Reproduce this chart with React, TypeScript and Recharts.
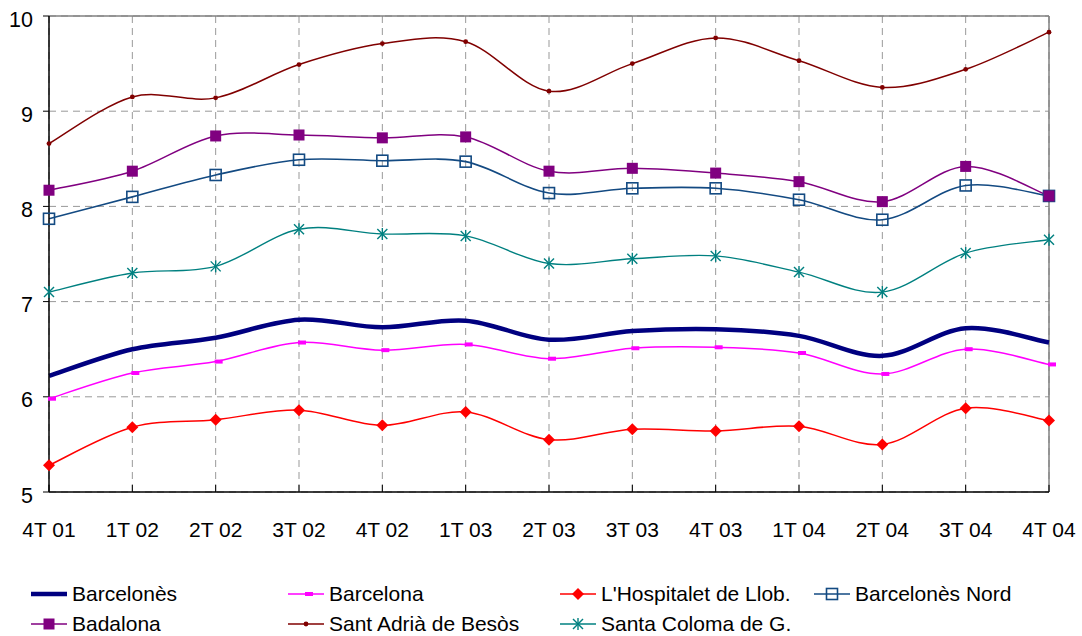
import React from "react";
import {
  LineChart,
  Line,
  XAxis,
  YAxis,
  CartesianGrid,
  Legend,
  ReferenceLine,
} from "recharts";

const quarters = ["4T 01", "1T 02", "2T 02", "3T 02", "4T 02", "1T 03", "2T 03", "3T 03", "4T 03", "1T 04", "2T 04", "3T 04", "4T 04"];
const yTicks = [5, 6, 7, 8, 9, 10];

const barcelones = [6.22, 6.5, 6.62, 6.81, 6.73, 6.8, 6.6, 6.69, 6.71, 6.64, 6.43, 6.72, 6.57];
const barcelona = [5.98, 6.25, 6.37, 6.57, 6.49, 6.55, 6.4, 6.51, 6.52, 6.46, 6.24, 6.5, 6.34];
const hospitalet = [5.28, 5.68, 5.76, 5.86, 5.7, 5.84, 5.55, 5.66, 5.64, 5.69, 5.5, 5.88, 5.75];
const barcelonesNord = [7.87, 8.1, 8.33, 8.49, 8.48, 8.47, 8.14, 8.19, 8.19, 8.07, 7.86, 8.22, 8.11];
const badalona = [8.17, 8.37, 8.74, 8.75, 8.72, 8.73, 8.37, 8.4, 8.35, 8.26, 8.05, 8.42, 8.11];
const santAdria = [8.66, 9.15, 9.14, 9.49, 9.71, 9.73, 9.21, 9.5, 9.77, 9.53, 9.25, 9.44, 9.83];
const santaColoma = [7.1, 7.3, 7.37, 7.76, 7.71, 7.69, 7.4, 7.45, 7.48, 7.31, 7.1, 7.51, 7.65];

const data = quarters.map((q, i) => ({
  q,
  barcelones: barcelones[i],
  barcelona: barcelona[i],
  hospitalet: hospitalet[i],
  barcelonesNord: barcelonesNord[i],
  badalona: badalona[i],
  santAdria: santAdria[i],
  santaColoma: santaColoma[i],
}));

// Excel-like smoothed line (Catmull-Rom through every point)
function excelSmooth(context: any) {
  let pts: number[][] = [];
  return {
    areaStart() {},
    areaEnd() {},
    lineStart() {
      pts = [];
    },
    lineEnd() {
      const n = pts.length;
      if (!n) return;
      context.moveTo(pts[0][0], pts[0][1]);
      for (let i = 0; i < n - 1; i++) {
        const p0 = pts[i - 1] || pts[i];
        const p1 = pts[i];
        const p2 = pts[i + 1];
        const p3 = pts[i + 2] || p2;
        context.bezierCurveTo(
          p1[0] + (p2[0] - p0[0]) / 6,
          p1[1] + (p2[1] - p0[1]) / 6,
          p2[0] - (p3[0] - p1[0]) / 6,
          p2[1] - (p3[1] - p1[1]) / 6,
          p2[0],
          p2[1]
        );
      }
    },
    point(x: number, y: number) {
      pts.push([+x, +y]);
    },
  };
}

type MarkerKind = "none" | "dash" | "diamond" | "openSquare" | "filledSquare" | "dot" | "asterisk";

function Marker({ kind, cx, cy, color }: { kind: MarkerKind; cx: number; cy: number; color: string }) {
  switch (kind) {
    case "dash":
      return <rect x={cx - 1} y={cy - 2} width={8} height={4} fill={color} />;
    case "diamond":
      return <path d={`M${cx},${cy - 6}L${cx + 6},${cy}L${cx},${cy + 6}L${cx - 6},${cy}Z`} fill={color} />;
    case "openSquare":
      return <rect x={cx - 5.5} y={cy - 5.5} width={11} height={11} fill="none" stroke={color} strokeWidth={1.6} />;
    case "filledSquare":
      return <rect x={cx - 5.5} y={cy - 5.5} width={11} height={11} fill={color} />;
    case "dot":
      return <circle cx={cx} cy={cy} r={2.4} fill={color} />;
    case "asterisk":
      return (
        <g stroke={color} strokeWidth={1.4}>
          <line x1={cx - 5} y1={cy - 5} x2={cx + 5} y2={cy + 5} />
          <line x1={cx - 5} y1={cy + 5} x2={cx + 5} y2={cy - 5} />
          <line x1={cx} y1={cy - 6} x2={cx} y2={cy + 6} />
        </g>
      );
    default:
      return null;
  }
}

const series = [
  { key: "barcelones", name: "Barcelonès", color: "#000080", width: 4.5, marker: "none" as MarkerKind },
  { key: "barcelona", name: "Barcelona", color: "#FF00FF", width: 1.5, marker: "dash" as MarkerKind },
  { key: "hospitalet", name: "L'Hospitalet de Llob.", color: "#FF0000", width: 1.5, marker: "diamond" as MarkerKind },
  { key: "barcelonesNord", name: "Barcelonès Nord", color: "#134A82", width: 1.6, marker: "openSquare" as MarkerKind },
  { key: "badalona", name: "Badalona", color: "#800080", width: 1.5, marker: "filledSquare" as MarkerKind },
  { key: "santAdria", name: "Sant Adrià de Besòs", color: "#800000", width: 1.5, marker: "dot" as MarkerKind },
  { key: "santaColoma", name: "Santa Coloma de G.", color: "#008080", width: 1.4, marker: "asterisk" as MarkerKind },
];

const legendCols = [31, 288, 560, 814];

function XTick({ x, y, payload }: any) {
  return (
    <g>
      <line x1={x} y1={y - 7} x2={x} y2={y} stroke="#000" strokeWidth={1} />
      <text x={x} y={y + 45} textAnchor="middle" fontSize={21} fill="#000">
        {payload.value}
      </text>
    </g>
  );
}

function YTick({ x, y, payload }: any) {
  return (
    <text x={x} y={y + 10.5} textAnchor="end" fontSize={21.5} fill="#000">
      {payload.value}
    </text>
  );
}

function ChartLegend() {
  return (
    <div style={{ position: "relative", width: 1082, height: 87, fontSize: 21, color: "#000" }}>
      {series.map((s, i) => {
        const left = legendCols[i % 4];
        const top = 30 + Math.floor(i / 4) * 30;
        return (
          <div key={s.key} style={{ position: "absolute", left, top, height: 30, display: "flex", alignItems: "center", whiteSpace: "nowrap" }}>
            <svg width={36} height={16} style={{ marginRight: 5 }}>
              <line x1={0} y1={8} x2={36} y2={8} stroke={s.color} strokeWidth={s.marker === "none" ? 4.5 : 1.5} />
              <Marker kind={s.marker} cx={18} cy={8} color={s.color} />
            </svg>
            <span>{s.name}</span>
          </div>
        );
      })}
    </div>
  );
}

export default function App() {
  return (
    <div style={{ position: "absolute", left: 0, top: 0, width: 1082, height: 636, background: "#fff", fontFamily: "'Liberation Sans', Arial, sans-serif" }}>
      <LineChart width={1082} height={636} data={data} margin={{ top: 16, right: 33, left: 0, bottom: 0 }}>
        <CartesianGrid stroke="#999" strokeDasharray="7 5" />
        <ReferenceLine y={10} stroke="#808080" strokeWidth={1.5} />
        <ReferenceLine x="4T 04" stroke="#808080" strokeWidth={1.5} />
        <XAxis
          dataKey="q"
          interval={0}
          height={57}
          axisLine={{ stroke: "#000", strokeWidth: 1.5 }}
          tickLine={false}
          tickSize={0}
          tickMargin={0}
          tick={<XTick />}
        />
        <YAxis
          width={49}
          domain={[5, 10]}
          ticks={yTicks}
          interval={0}
          axisLine={{ stroke: "#000", strokeWidth: 1.5 }}
          tickLine={{ stroke: "#000" }}
          tickSize={6}
          tickMargin={10}
          tick={<YTick />}
        />
        {series.map((s) => (
          <Line
            key={s.key}
            dataKey={s.key}
            name={s.name}
            type={excelSmooth as any}
            stroke={s.color}
            strokeWidth={s.width}
            isAnimationActive={false}
            activeDot={false}
            dot={(p: any) => (
              <g key={`${s.key}-${p.index}`}>
                <Marker kind={s.marker} cx={p.cx} cy={p.cy} color={s.color} />
              </g>
            )}
          />
        ))}
        <Legend verticalAlign="bottom" wrapperStyle={{ left: 0, width: 1082, height: 87 }} content={<ChartLegend />} />
      </LineChart>
    </div>
  );
}
